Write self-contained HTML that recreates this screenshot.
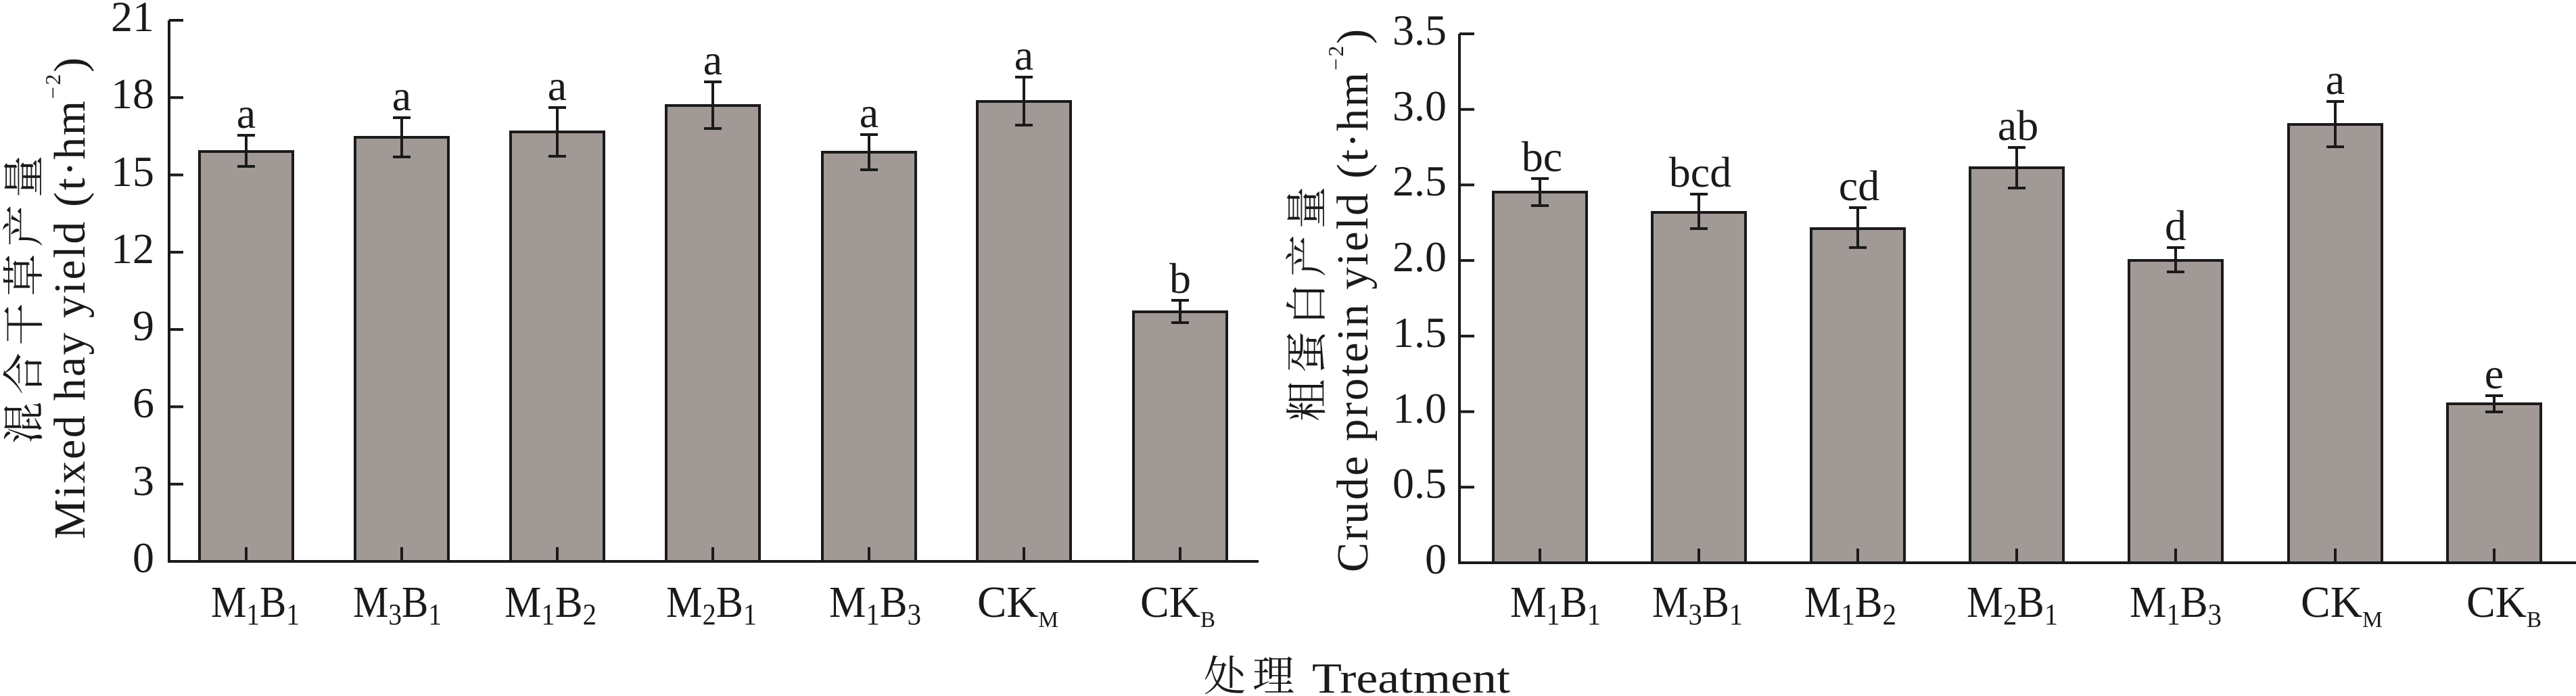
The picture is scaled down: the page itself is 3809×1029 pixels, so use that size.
<!DOCTYPE html>
<html>
<head>
<meta charset="utf-8">
<style>
  html, body { margin: 0; padding: 0; background: #ffffff; }
  svg { display: block; }
  text { font-family: "Liberation Serif", "Noto Serif CJK SC", serif; fill: #1a1a1a; }
  .cjk { font-family: "Noto Serif CJK SC", "Noto Sans CJK SC", serif; }
</style>
</head>
<body>
<svg width="3809" height="1029" viewBox="0 0 3809 1029" xmlns="http://www.w3.org/2000/svg">
  <rect x="0" y="0" width="3809" height="1029" fill="#ffffff"/>

  <!-- ================= LEFT CHART ================= -->
  <g fill="#a19995" stroke="#1a1a1a" stroke-width="4">
    <rect x="295" y="224" width="138" height="606"/>
    <rect x="525" y="203" width="138" height="627"/>
    <rect x="755" y="195" width="138" height="635"/>
    <rect x="985" y="156" width="138" height="674"/>
    <rect x="1216" y="225" width="138" height="605"/>
    <rect x="1445" y="150" width="138" height="680"/>
    <rect x="1676" y="461" width="138" height="369"/>
  </g>
  <g stroke="#1a1a1a" stroke-width="4" fill="none">
    <path d="M364 200V246M351 200H377M351 246H377"/>
    <path d="M594 174V232M581 174H607M581 232H607"/>
    <path d="M824 159V231M811 159H837M811 231H837"/>
    <path d="M1054 121V190M1041 121H1067M1041 190H1067"/>
    <path d="M1285 199V251M1272 199H1298M1272 251H1298"/>
    <path d="M1514 114V185M1501 114H1527M1501 185H1527"/>
    <path d="M1745 444V477M1732 444H1758M1732 477H1758"/>
  </g>
  <g stroke="#1a1a1a" stroke-width="4" fill="none">
    <path d="M250 30V832"/>
    <path d="M248 830H1861"/>
    <path d="M250 30H271M250 144.3H271M250 258.6H271M250 372.9H271M250 487.1H271M250 601.4H271M250 715.7H271"/>
    <path d="M364 830V809M594 830V809M824 830V809M1054 830V809M1285 830V809M1514 830V809M1745 830V809"/>
  </g>
  <g font-size="64" text-anchor="end">
    <text x="228" y="46">21</text>
    <text x="228" y="160">18</text>
    <text x="228" y="275">15</text>
    <text x="228" y="389">12</text>
    <text x="228" y="503">9</text>
    <text x="228" y="617">6</text>
    <text x="228" y="732">3</text>
    <text x="228" y="846">0</text>
  </g>
  <g font-size="64" text-anchor="middle">
    <text x="364" y="189">a</text>
    <text x="594" y="163">a</text>
    <text x="824" y="148">a</text>
    <text x="1054" y="110">a</text>
    <text x="1285" y="188">a</text>
    <text x="1514" y="103">a</text>
    <text x="1745" y="433">b</text>
  </g>
  <g font-size="66">
    <text x="312" y="912" textLength="131" lengthAdjust="spacingAndGlyphs">M<tspan font-size="44" dy="11">1</tspan><tspan dy="-11">B</tspan><tspan font-size="44" dy="11">1</tspan></text>
    <text x="522" y="912" textLength="131" lengthAdjust="spacingAndGlyphs">M<tspan font-size="44" dy="11">3</tspan><tspan dy="-11">B</tspan><tspan font-size="44" dy="11">1</tspan></text>
    <text x="746" y="912" textLength="136" lengthAdjust="spacingAndGlyphs">M<tspan font-size="44" dy="11">1</tspan><tspan dy="-11">B</tspan><tspan font-size="44" dy="11">2</tspan></text>
    <text x="985" y="912" textLength="134" lengthAdjust="spacingAndGlyphs">M<tspan font-size="44" dy="11">2</tspan><tspan dy="-11">B</tspan><tspan font-size="44" dy="11">1</tspan></text>
    <text x="1226" y="912" textLength="136" lengthAdjust="spacingAndGlyphs">M<tspan font-size="44" dy="11">1</tspan><tspan dy="-11">B</tspan><tspan font-size="44" dy="11">3</tspan></text>
    <text x="1445" y="912" textLength="120" lengthAdjust="spacingAndGlyphs">CK<tspan font-size="34" dy="15">M</tspan></text>
    <text x="1686" y="912" textLength="111" lengthAdjust="spacingAndGlyphs">CK<tspan font-size="34" dy="15">B</tspan></text>
  </g>
  <text class="cjk" font-size="62" text-anchor="middle" textLength="426" lengthAdjust="spacing" transform="translate(57,443) rotate(-90)">混合干草产量</text>
  <text font-size="66" text-anchor="middle" textLength="712" lengthAdjust="spacing" transform="translate(125,441) rotate(-90)">Mixed hay yield (t·hm<tspan font-size="32" dy="-36">−2</tspan><tspan dy="36">)</tspan></text>

  <!-- ================= RIGHT CHART ================= -->
  <g fill="#a19995" stroke="#1a1a1a" stroke-width="4">
    <rect x="2208" y="284" width="138" height="548"/>
    <rect x="2443" y="314" width="138" height="518"/>
    <rect x="2678" y="338" width="138" height="494"/>
    <rect x="2913" y="248" width="138" height="584"/>
    <rect x="3148" y="385" width="138" height="447"/>
    <rect x="3384" y="184" width="138" height="648"/>
    <rect x="3619" y="597" width="138" height="235"/>
  </g>
  <g stroke="#1a1a1a" stroke-width="4" fill="none">
    <path d="M2277 264V304M2264 264H2290M2264 304H2290"/>
    <path d="M2512 287V338M2499 287H2525M2499 338H2525"/>
    <path d="M2747 307V366M2734 307H2760M2734 366H2760"/>
    <path d="M2982 218V278M2969 218H2995M2969 278H2995"/>
    <path d="M3217 366V402M3204 366H3230M3204 402H3230"/>
    <path d="M3453 150V217M3440 150H3466M3440 217H3466"/>
    <path d="M3688 585V609M3675 585H3701M3675 609H3701"/>
  </g>
  <g stroke="#1a1a1a" stroke-width="4" fill="none">
    <path d="M2158 50V834"/>
    <path d="M2156 832H3809"/>
    <path d="M2158 50H2180M2158 161.7H2180M2158 273.4H2180M2158 385.1H2180M2158 496.9H2180M2158 608.6H2180M2158 720.3H2180"/>
    <path d="M2277 832V811M2512 832V811M2747 832V811M2982 832V811M3217 832V811M3453 832V811M3688 832V811"/>
  </g>
  <g font-size="64" text-anchor="end">
    <text x="2139" y="66">3.5</text>
    <text x="2139" y="178">3.0</text>
    <text x="2139" y="289">2.5</text>
    <text x="2139" y="401">2.0</text>
    <text x="2139" y="513">1.5</text>
    <text x="2139" y="625">1.0</text>
    <text x="2139" y="736">0.5</text>
    <text x="2139" y="848">0</text>
  </g>
  <g font-size="64" text-anchor="middle">
    <text x="2280" y="253">bc</text>
    <text x="2514" y="276">bcd</text>
    <text x="2749" y="296">cd</text>
    <text x="2984" y="207">ab</text>
    <text x="3217" y="355">d</text>
    <text x="3453" y="139">a</text>
    <text x="3688" y="574">e</text>
  </g>
  <g font-size="66">
    <text x="2233" y="912" textLength="134" lengthAdjust="spacingAndGlyphs">M<tspan font-size="44" dy="11">1</tspan><tspan dy="-11">B</tspan><tspan font-size="44" dy="11">1</tspan></text>
    <text x="2443" y="912" textLength="134" lengthAdjust="spacingAndGlyphs">M<tspan font-size="44" dy="11">3</tspan><tspan dy="-11">B</tspan><tspan font-size="44" dy="11">1</tspan></text>
    <text x="2668" y="912" textLength="136" lengthAdjust="spacingAndGlyphs">M<tspan font-size="44" dy="11">1</tspan><tspan dy="-11">B</tspan><tspan font-size="44" dy="11">2</tspan></text>
    <text x="2908" y="912" textLength="135" lengthAdjust="spacingAndGlyphs">M<tspan font-size="44" dy="11">2</tspan><tspan dy="-11">B</tspan><tspan font-size="44" dy="11">1</tspan></text>
    <text x="3149" y="912" textLength="136" lengthAdjust="spacingAndGlyphs">M<tspan font-size="44" dy="11">1</tspan><tspan dy="-11">B</tspan><tspan font-size="44" dy="11">3</tspan></text>
    <text x="3402" y="912" textLength="121" lengthAdjust="spacingAndGlyphs">CK<tspan font-size="34" dy="15">M</tspan></text>
    <text x="3647" y="912" textLength="111" lengthAdjust="spacingAndGlyphs">CK<tspan font-size="34" dy="15">B</tspan></text>
  </g>
  <text class="cjk" font-size="62" text-anchor="middle" textLength="347" lengthAdjust="spacing" transform="translate(1954,449.5) rotate(-90)">粗蛋白产量</text>
  <text font-size="66" text-anchor="middle" textLength="803" lengthAdjust="spacing" transform="translate(2022,444.5) rotate(-90)">Crude protein yield (t·hm<tspan font-size="32" dy="-36">−2</tspan><tspan dy="36">)</tspan></text>

  <!-- x title -->
  <text class="cjk" x="1780" y="1021" font-size="62" letter-spacing="10">处理</text>
  <text x="1940" y="1024" font-size="64" textLength="293" lengthAdjust="spacingAndGlyphs">Treatment</text>
</svg>
</body>
</html>
